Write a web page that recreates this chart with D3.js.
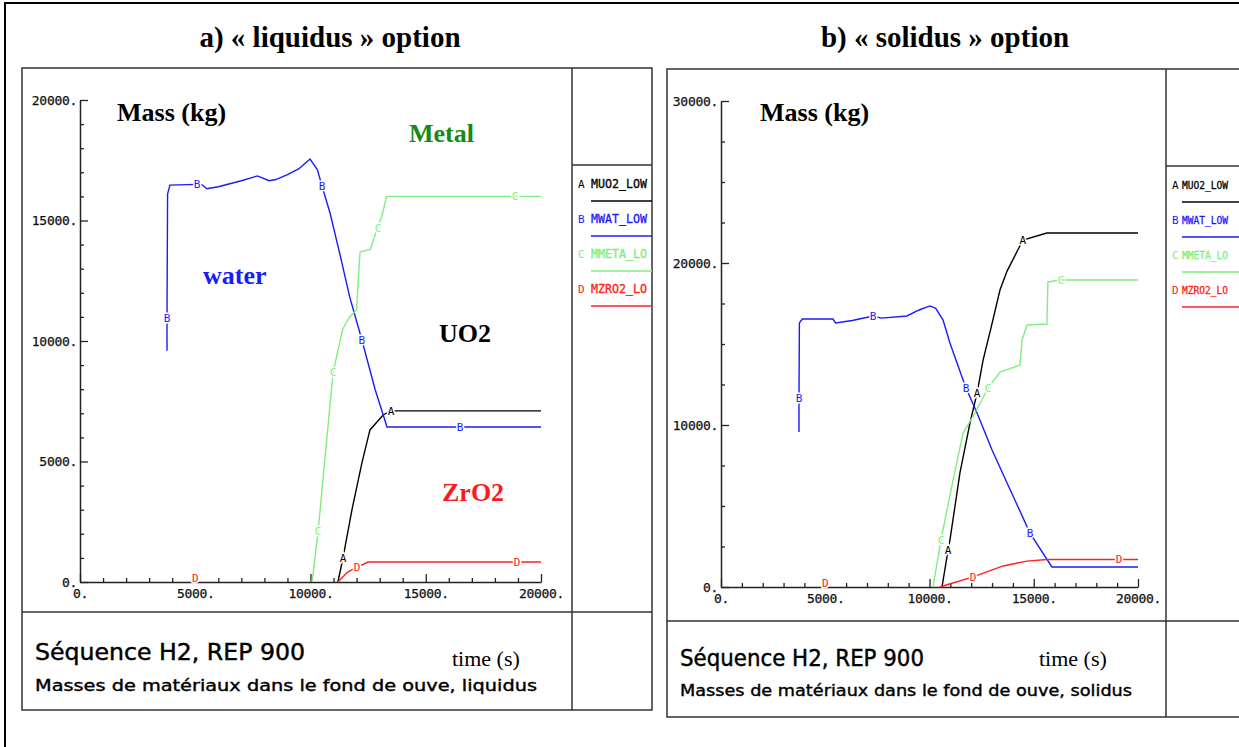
<!DOCTYPE html>
<html>
<head>
<meta charset="utf-8">
<script src="https://cdn.jsdelivr.net/npm/d3@7"></script>
<style>
  body { margin: 0; background: #fff; }
  .pix { font-family: "DejaVu Sans Mono", "Liberation Mono", monospace; }
  .nar { font-family: "Liberation Sans Narrow", "DejaVu Sans Condensed", "DejaVu Sans", sans-serif; }
  .serif { font-family: "Liberation Serif", "Times New Roman", serif; }
</style>
</head>
<body>
<div id="chart"></div>
<script>
// series: [time (s), mass (kg)]
const liqUO2 = [[11190, 0], [11410, 1000], [11800, 3000], [12230, 4940], [12580, 6310], [13150, 6930], [13490, 7100], [20000, 7100]];
const liqWAT = [[3774, 9600], [3774, 11000], [3800, 16100], [3900, 16470], [5080, 16500], [5300, 16480], [5500, 16320],
  [6000, 16400], [7000, 16650], [7700, 16850], [8200, 16650], [8500, 16700], [9000, 16900], [9500, 17150], [9980, 17550],
  [10300, 17100], [10500, 16430], [10850, 15300], [11300, 13500], [11700, 11830], [12230, 10040], [12800, 8000],
  [13320, 6430], [20000, 6430]];
const liqMETA = [[10070, 0], [10330, 2100], [10980, 8710], [11400, 10500], [11700, 11000], [12000, 11300], [12100, 13000],
  [12150, 13700], [12600, 13800], [12900, 14700], [13100, 15200], [13300, 16000], [20000, 16000]];
const liqZRO2 = [[11190, 0], [11600, 400], [12020, 620], [12500, 830], [20000, 830]];

const solUO2 = [[10600, 0], [10890, 2280], [10980, 2900], [11460, 7040], [11940, 10120], [12280, 11975], [12570, 14000],
  [12950, 16000], [13380, 18330], [13720, 19500], [14480, 21420], [15630, 21850], [20000, 21850]];
const solWAT = [[3740, 9570], [3740, 11670], [3760, 16300], [3900, 16540], [5370, 16540], [5500, 16300], [6300, 16450],
  [7290, 16730], [7700, 16600], [8920, 16730], [9500, 17100], [10020, 17350], [10300, 17200], [10650, 16480],
  [10980, 15060], [11320, 13830], [11750, 12280], [12280, 10740], [13000, 8460], [13720, 6420], [14820, 3330],
  [15870, 1235], [20000, 1235]];
const solMETA = [[10170, 0], [10550, 2900], [11130, 6600], [11610, 9500], [12180, 10740], [12810, 12280], [13380, 13270],
  [14340, 13700], [14440, 15250], [14680, 16170], [15630, 16230], [15680, 18830], [16310, 18950], [20000, 18950]];
const solZRO2 = [[10500, 0], [11000, 200], [12090, 620], [13530, 1300], [14680, 1600], [15630, 1700], [20000, 1700]];

// marker letters on the curves
const liqMarkA = [[11410, 1000], [13490, 7100]];
const liqMarkB = [[3774, 10950], [5080, 16500], [10500, 16430], [12230, 10040], [16490, 6430]];
const liqMarkC = [[10330, 2100], [10980, 8710], [12930, 14690], [18870, 16020]];
const liqMarkD = [[5000, 150], [12020, 620], [18960, 830]];
const solMarkA = [[10890, 2280], [12280, 11975], [14480, 21420]];
const solMarkB = [[3740, 11670], [7290, 16730], [11750, 12280], [14820, 3330]];
const solMarkC = [[10550, 2900], [12810, 12280], [16310, 18950]];
const solMarkD = [[5000, 250], [12090, 620], [19090, 1700]];

const seriesNames = ["MUO2_LOW", "MWAT_LOW", "MMETA_LO", "MZRO2_LO"];
const seriesLetters = ["A", "B", "C", "D"];
const xTicks = [0, 5000, 10000, 15000, 20000];
const colors = ["#000000", "#1a1aff", "#80ee80", "#ff2020"];

const W = 1239, H = 747;
const svg = d3.select("#chart").append("svg").attr("width", W).attr("height", H);

// outer frame
svg.append("rect").attr("x", 5).attr("y", 3).attr("width", 1250).attr("height", 760)
  .attr("fill", "none").attr("stroke", "#000").attr("stroke-width", 2);

function drawPanel(cfg)
{
  const g = svg.append("g");

  g.append("text").attr("class", "serif").attr("x", cfg.titleX).attr("y", 47)
    .attr("text-anchor", "middle").attr("font-size", 29).attr("font-weight", "bold").text(cfg.title);

  // box and separators
  const b = cfg.box;
  g.append("rect").attr("x", b.x).attr("y", b.y).attr("width", b.w).attr("height", b.h)
    .attr("fill", "none").attr("stroke", "#333").attr("stroke-width", 1.5);
  g.append("line").attr("x1", cfg.divX).attr("x2", cfg.divX).attr("y1", b.y).attr("y2", b.y + b.h)
    .attr("stroke", "#333").attr("stroke-width", 1.5);
  g.append("line").attr("x1", cfg.divX).attr("x2", b.x + b.w).attr("y1", cfg.legY).attr("y2", cfg.legY)
    .attr("stroke", "#333").attr("stroke-width", 1.5);
  g.append("line").attr("x1", b.x).attr("x2", b.x + b.w).attr("y1", cfg.botY).attr("y2", cfg.botY)
    .attr("stroke", "#333").attr("stroke-width", 1.5);

  const x = d3.scaleLinear().domain([0, 20000]).range([cfg.plot.x0, cfg.plot.x1]);
  const y = d3.scaleLinear().domain([0, cfg.yMax]).range([cfg.plot.y0, cfg.plot.y1]);

  // y axis
  const yAx = g.append("g").attr("transform", `translate(${cfg.plot.x0},0)`)
    .call(d3.axisLeft(y).tickValues(d3.range(0, cfg.yMax + 1, cfg.yMinor))
      .tickSizeInner(-4).tickSizeOuter(0).tickPadding(3)
      .tickFormat(d => d % cfg.yMajor === 0 ? d + "." : ""));
  yAx.selectAll(".tick line").attr("x2", d => d % cfg.yMajor === 0 ? 8 : 4);

  // x axis
  const xAx = g.append("g").attr("transform", `translate(0,${cfg.plot.y0})`)
    .call(d3.axisBottom(x).tickValues(d3.range(0, 20001, 1000))
      .tickSizeInner(-4).tickSizeOuter(0).tickPadding(7)
      .tickFormat(d => xTicks.includes(d) ? d + "." : ""));
  xAx.selectAll(".tick line").attr("y2", d => xTicks.includes(d) ? -8 : -4);

  [yAx, xAx].forEach(a => {
    a.select(".domain").attr("stroke", "#222").attr("stroke-width", 1.5);
    a.selectAll(".tick line").attr("stroke", "#222").attr("stroke-width", 1.3);
    a.selectAll("text").attr("class", "pix").attr("font-size", 13).attr("letter-spacing", -0.3)
      .attr("fill", "#111").attr("stroke", "#111").attr("stroke-width", 0.25);
  });

  // curves
  const line = d3.line().x(d => x(d[0])).y(d => y(d[1]));
  cfg.series.forEach((s, i) => {
    g.append("path").datum(s).attr("d", line).attr("fill", "none")
      .attr("stroke", colors[i]).attr("stroke-width", 1.4);
  });

  // letter markers
  cfg.marks.forEach((m, i) => {
    g.selectAll(null).data(m).enter().append("text")
      .attr("class", "pix").attr("x", d => x(d[0])).attr("y", d => y(d[1]) + 4)
      .attr("text-anchor", "middle").attr("font-size", 11)
      .attr("fill", colors[i]).attr("stroke", "#fff").attr("stroke-width", 3)
      .attr("paint-order", "stroke").text(seriesLetters[i]);
  });

  // legend
  seriesNames.forEach((n, i) => {
    const ty = cfg.legY + 23 + i * 35;
    g.append("text").attr("class", "pix").attr("x", cfg.divX + 6).attr("y", ty)
      .attr("font-size", 11).attr("fill", colors[i]).text(seriesLetters[i]);
    g.append("text").attr("class", "pix").attr("x", cfg.divX + cfg.legDx).attr("y", ty)
      .attr("font-size", cfg.legFs).attr("textLength", cfg.legW).attr("lengthAdjust", "spacingAndGlyphs")
      .attr("fill", colors[i]).attr("stroke", colors[i]).attr("stroke-width", 0.3).text(n);
    g.append("line").attr("x1", cfg.divX + cfg.legDx).attr("x2", b.x + b.w).attr("y1", ty + 13).attr("y2", ty + 13)
      .attr("stroke", colors[i]).attr("stroke-width", 1.5);
  });

  // annotations
  cfg.notes.forEach(n => {
    g.append("text").attr("class", "serif").attr("x", n.x).attr("y", n.y)
      .attr("font-size", 26).attr("font-weight", "bold").attr("fill", n.c).text(n.t);
  });

  // footer
  g.append("text").attr("class", "nar").attr("x", cfg.foot.x).attr("y", cfg.foot.y1)
    .attr("font-size", 23).attr("textLength", cfg.foot.w1).attr("lengthAdjust", "spacingAndGlyphs")
    .attr("stroke", "#000").attr("stroke-width", 0.4)
    .text("Séquence H2, REP 900");
  g.append("text").attr("class", "nar").attr("x", cfg.foot.x).attr("y", cfg.foot.y2)
    .attr("font-size", 15).attr("textLength", cfg.foot.w2).attr("lengthAdjust", "spacingAndGlyphs")
    .attr("stroke", "#000").attr("stroke-width", 0.35)
    .text(cfg.foot.line2);
  g.append("text").attr("class", "serif").attr("x", cfg.foot.tx).attr("y", 666)
    .attr("font-size", 22).text("time (s)");
}

drawPanel({
  title: "a) « liquidus » option", titleX: 330,
  box: {x: 22, y: 68, w: 630, h: 642}, divX: 572, legY: 165, botY: 612, legDx: 19, legW: 56, legFs: 12,
  plot: {x0: 80, x1: 541, y0: 582, y1: 100}, yMax: 20000, yMinor: 1000, yMajor: 5000,
  series: [liqUO2, liqWAT, liqMETA, liqZRO2],
  marks: [liqMarkA, liqMarkB, liqMarkC, liqMarkD],
  notes: [
    {t: "Mass (kg)", x: 117, y: 121, c: "#000"},
    {t: "Metal", x: 409, y: 142, c: "#158a15"},
    {t: "water", x: 203, y: 284, c: "#1a1aff"},
    {t: "UO2", x: 439, y: 342, c: "#000"},
    {t: "ZrO2", x: 442, y: 501, c: "#ff1a1a"}
  ],
  foot: {x: 35, y1: 660, w1: 270, y2: 691, w2: 502, tx: 452,
    line2: "Masses de matériaux dans le fond de ouve, liquidus"}
});

drawPanel({
  title: "b) « solidus » option", titleX: 945,
  box: {x: 667, y: 69, w: 620, h: 648}, divX: 1166, legY: 166, botY: 621, legDx: 16, legW: 46, legFs: 10,
  plot: {x0: 721, x1: 1138, y0: 587, y1: 101}, yMax: 30000, yMinor: 2500, yMajor: 10000,
  series: [solUO2, solWAT, solMETA, solZRO2],
  marks: [solMarkA, solMarkB, solMarkC, solMarkD],
  notes: [
    {t: "Mass (kg)", x: 760, y: 121, c: "#000"}
  ],
  foot: {x: 680, y1: 666, w1: 244, y2: 696, w2: 452, tx: 1039,
    line2: "Masses de matériaux dans le fond de ouve, solidus"}
});
</script>
</body>
</html>
